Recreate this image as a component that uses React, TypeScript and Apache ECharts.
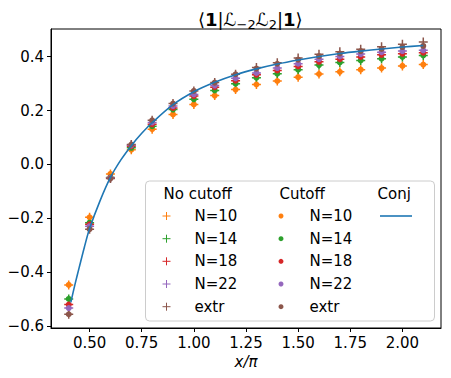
import React, { useEffect, useRef } from "react";
import * as echarts from "echarts";

const xValues = [0.4, 0.5, 0.6, 0.7, 0.8, 0.9, 1.0, 1.1, 1.2, 1.3, 1.4, 1.5, 1.6, 1.7, 1.8, 1.9, 2.0, 2.1];

// Cutoff (dots)
const cutN10 = [-0.447, -0.196, -0.035, 0.055, 0.131, 0.186, 0.223, 0.256, 0.278, 0.297, 0.310, 0.324, 0.336, 0.344, 0.352, 0.358, 0.366, 0.371];
const cutN14 = [-0.499, -0.216, -0.048, 0.062, 0.142, 0.204, 0.242, 0.275, 0.300, 0.322, 0.337, 0.352, 0.369, 0.379, 0.386, 0.393, 0.399, 0.405];
const cutN18 = [-0.520, -0.222, -0.049, 0.068, 0.149, 0.210, 0.254, 0.287, 0.311, 0.333, 0.349, 0.364, 0.381, 0.391, 0.399, 0.407, 0.411, 0.415];
const cutN22 = [-0.533, -0.229, -0.050, 0.071, 0.156, 0.217, 0.260, 0.293, 0.320, 0.340, 0.358, 0.374, 0.391, 0.401, 0.410, 0.417, 0.421, 0.424];
const cutExtr = [-0.556, -0.240, -0.052, 0.074, 0.164, 0.226, 0.273, 0.304, 0.335, 0.356, 0.374, 0.389, 0.402, 0.412, 0.421, 0.429, 0.436, 0.440];

// No cutoff (plus)
const noN10 = [-0.447, -0.196, -0.035, 0.055, 0.131, 0.186, 0.223, 0.256, 0.278, 0.297, 0.310, 0.324, 0.336, 0.344, 0.352, 0.358, 0.366, 0.371];
const noN14 = [-0.499, -0.216, -0.048, 0.062, 0.142, 0.204, 0.242, 0.275, 0.300, 0.322, 0.337, 0.352, 0.369, 0.379, 0.386, 0.393, 0.399, 0.405];
const noN18 = [-0.520, -0.222, -0.049, 0.068, 0.149, 0.210, 0.254, 0.287, 0.311, 0.333, 0.349, 0.364, 0.381, 0.391, 0.399, 0.407, 0.411, 0.415];
const noN22 = [-0.533, -0.229, -0.050, 0.071, 0.156, 0.217, 0.260, 0.293, 0.320, 0.340, 0.358, 0.374, 0.391, 0.401, 0.410, 0.417, 0.421, 0.424];
const noExtr = [-0.556, -0.240, -0.052, 0.074, 0.164, 0.226, 0.273, 0.304, 0.335, 0.360, 0.378, 0.395, 0.409, 0.419, 0.428, 0.437, 0.446, 0.455];

// Conjecture curve
const conjX = [0.41, 0.43, 0.45, 0.475, 0.5, 0.55, 0.6, 0.65, 0.7, 0.75, 0.8, 0.9, 1.0, 1.1, 1.2, 1.3, 1.4, 1.5, 1.6, 1.7, 1.8, 1.9, 2.0, 2.1];
const conjY = [-0.512, -0.445, -0.383, -0.307, -0.238, -0.135, -0.048, 0.017, 0.070, 0.116, 0.155, 0.222, 0.270, 0.305, 0.333, 0.355, 0.373, 0.388, 0.401, 0.412, 0.421, 0.429, 0.436, 0.442];

const xTicks = [0.5, 0.75, 1.0, 1.25, 1.5, 1.75, 2.0];
const yTicks = [-0.6, -0.4, -0.2, 0.0, 0.2, 0.4];

const seriesLabels = ["N=10", "N=14", "N=18", "N=22", "extr"];
const colors = ["#ff7f0e", "#2ca02c", "#d62728", "#9467bd", "#8c564b"];
const noCutoffSets = [noN10, noN14, noN18, noN22, noExtr];
const cutoffSets = [cutN10, cutN14, cutN18, cutN22, cutExtr];

const PLUS = "path://M5,0H7V5H12V7H7V12H5V7H0V5H5Z";
const FONT = "DejaVu Sans";

function pairs(xs: number[], ys: number[]) {
  return xs.map((x, i) => [x, ys[i]]);
}

export default function App() {
  const ref = useRef<HTMLDivElement>(null);
  useEffect(() => {
    document.body.style.margin = "0";
    if (!ref.current) return;
    const chart = echarts.init(ref.current, undefined, { renderer: "svg" });

    const series: any[] = [];
    noCutoffSets.forEach((ys, i) => {
      series.push({
        type: "scatter",
        name: "No cutoff " + seriesLabels[i],
        data: pairs(xValues, ys),
        symbol: PLUS,
        symbolSize: 9,
        itemStyle: { color: colors[i], opacity: 1 },
        z: 2,
      });
    });
    cutoffSets.forEach((ys, i) => {
      series.push({
        type: "scatter",
        name: "Cutoff " + seriesLabels[i],
        data: pairs(xValues, ys),
        symbol: "circle",
        symbolSize: 6,
        itemStyle: { color: colors[i], opacity: 1 },
        z: 3,
      });
    });
    series.push({
      type: "line",
      name: "Conj",
      data: pairs(conjX, conjY),
      showSymbol: false,
      symbol: "none",
      smooth: 0.3,
      lineStyle: { color: "#1f77b4", width: 1.6 },
      z: 4,
    });

    // legend drawn with graphic
    const lx0 = 145.5, ly0 = 181, lw = 289, lh = 140;
    const rows = [216, 238.7, 261.3, 284, 306.7];
    const g: any[] = [
      {
        type: "rect",
        shape: { x: lx0, y: ly0, width: lw, height: lh, r: 4 },
        style: { fill: "rgba(255,255,255,0.8)", stroke: "#cccccc", lineWidth: 1 },
        z: 100,
      },
      { type: "text", x: 163.5, y: 193.5, style: { text: "No cutoff", font: `15px "${FONT}"`, fill: "#000", textVerticalAlign: "middle" }, z: 101 },
      { type: "text", x: 279.5, y: 193.5, style: { text: "Cutoff", font: `15px "${FONT}"`, fill: "#000", textVerticalAlign: "middle" }, z: 101 },
      { type: "text", x: 377.5, y: 193.5, style: { text: "Conj", font: `15px "${FONT}"`, fill: "#000", textVerticalAlign: "middle" }, z: 101 },
      { type: "line", shape: { x1: 380, y1: rows[0], x2: 412, y2: rows[0] }, style: { stroke: "#1f77b4", lineWidth: 1.6 }, z: 101 },
    ];
    seriesLabels.forEach((lab, i) => {
      const y = rows[i];
      g.push({ type: "line", shape: { x1: 162.5, y1: y, x2: 170.5, y2: y }, style: { stroke: colors[i], lineWidth: 1 }, z: 101 });
      g.push({ type: "line", shape: { x1: 166.5, y1: y - 4, x2: 166.5, y2: y + 4 }, style: { stroke: colors[i], lineWidth: 1 }, z: 101 });
      g.push({ type: "text", x: 194.5, y, style: { text: lab, font: `15px "${FONT}"`, fill: "#000", textVerticalAlign: "middle" }, z: 101 });
      g.push({ type: "circle", shape: { cx: 281, cy: y, r: 2.5 }, style: { fill: colors[i] }, z: 101 });
      g.push({ type: "text", x: 309.5, y, style: { text: lab, font: `15px "${FONT}"`, fill: "#000", textVerticalAlign: "middle" }, z: 101 });
    });

    const option: any = {
      animation: false,
      backgroundColor: "#ffffff",
      textStyle: { fontFamily: FONT },
      title: {
        text: "{n|⟨}{b|1}{n||}{n|ℒ}{s|−2}{n|ℒ}{s|2}{n||}{b|1}{n|⟩}",
        left: 193,
        top: 2,
        textStyle: {
          fontWeight: "normal",
          rich: {
            n: { fontFamily: FONT, fontSize: 18, fontWeight: "normal", color: "#000", lineHeight: 24 },
            b: { fontFamily: FONT, fontSize: 18, fontWeight: "bold", color: "#000", lineHeight: 24 },
            s: { fontFamily: FONT, fontSize: 13, fontWeight: "normal", color: "#000", lineHeight: 24, verticalAlign: "bottom" },
          },
        },
      },
      grid: {
        left: 51,
        right: 10,
        top: 29,
        bottom: 50,
        show: true,
        borderColor: "#000",
        borderWidth: 1,
        backgroundColor: "transparent",
        outerBoundsMode: "none",
        containLabel: false,
      },
      xAxis: {
        type: "value",
        min: 0.315,
        max: 2.185,
        name: "x/π",
        nameLocation: "middle",
        nameGap: 25,
        nameTextStyle: { fontFamily: FONT, fontSize: 15, fontStyle: "italic", color: "#000" },
        axisLine: { show: true, onZero: false, lineStyle: { color: "#000", width: 1 } },
        axisTick: { show: true, length: 4, lineStyle: { color: "#000" }, customValues: xTicks },
        axisLabel: {
          fontFamily: FONT,
          fontSize: 15,
          color: "#000",
          margin: 7,
          customValues: xTicks,
          formatter: (v: number) => v.toFixed(2),
        },
        splitLine: { show: false },
      },
      yAxis: {
        type: "value",
        min: -0.607,
        max: 0.503,
        axisLine: { show: true, onZero: false, lineStyle: { color: "#000", width: 1 } },
        axisTick: { show: true, length: 4, lineStyle: { color: "#000" }, customValues: yTicks },
        axisLabel: {
          fontFamily: FONT,
          fontSize: 15,
          color: "#000",
          margin: 7,
          customValues: yTicks,
          formatter: (v: number) => (v < -1e-9 ? "−" : "") + Math.abs(v).toFixed(1),
        },
        splitLine: { show: false },
      },
      legend: { show: false },
      series,
      graphic: g,
    };
    chart.setOption(option);
    return () => chart.dispose();
  }, []);
  return <div ref={ref} style={{ width: 451, height: 378 }} />;
}
